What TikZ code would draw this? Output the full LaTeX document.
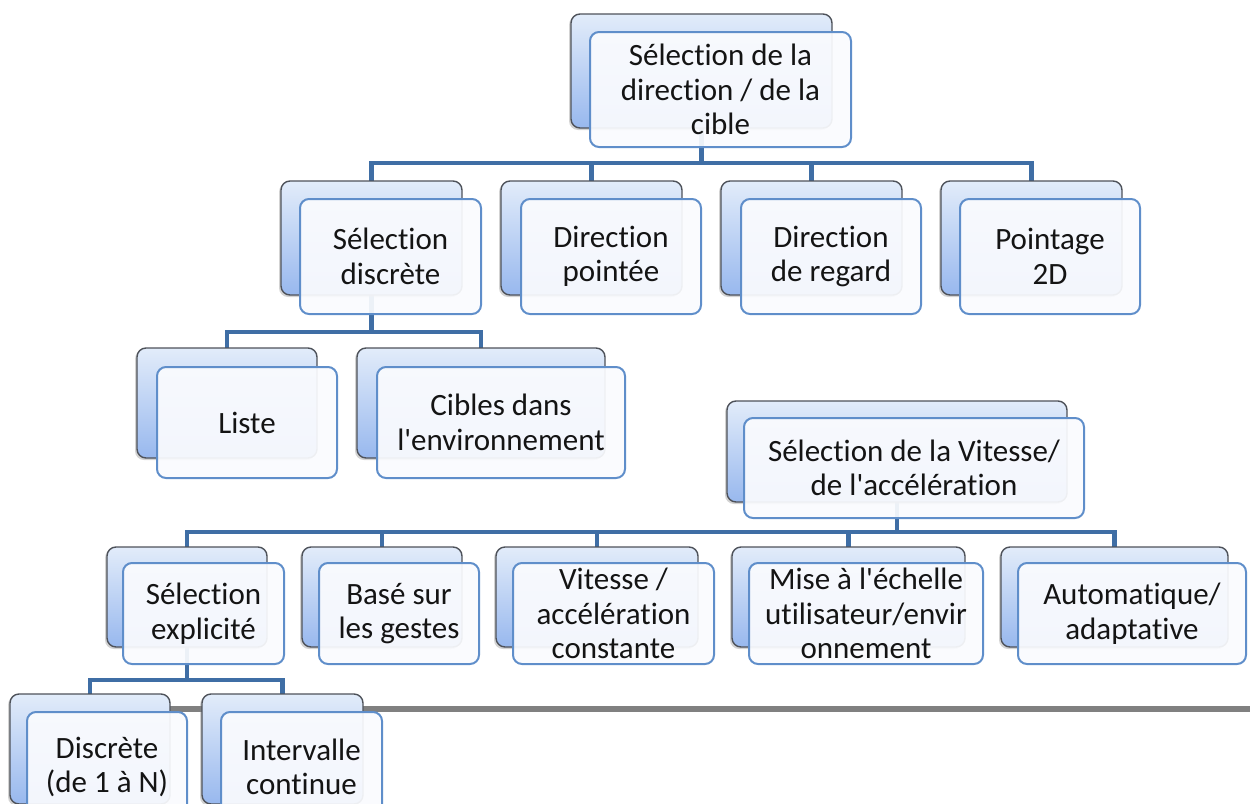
\documentclass[tikz,border=0pt]{standalone}
\usepackage{fontspec}
\setmainfont{Carlito}[Ligatures={TeXOff,NoCommon}]
\usetikzlibrary{shadows}
\pgfdeclarelayer{bg}
\pgfsetlayers{bg,main}
\definecolor{conncol}{HTML}{3F6EA5}
\definecolor{backline}{HTML}{4E525A}
\definecolor{backtop}{HTML}{E2ECFA}
\definecolor{backbot}{HTML}{98B8EE}
\definecolor{frontline}{HTML}{5F8ECA}
\definecolor{frontfill}{HTML}{FAFBFE}
\definecolor{textcol}{HTML}{141414}
\definecolor{rulecol}{HTML}{808080}
\begin{document}
\begin{tikzpicture}[x=1pt,y=-1pt,
  backbox/.style={draw=backline, line width=1.4, rounded corners=9,
    top color=backtop, bottom color=backbot, inner sep=0, outer sep=0,
    drop shadow={shadow xshift=-2pt, shadow yshift=-2pt, opacity=0.35}},
  frontbox/.style={draw=frontline, line width=2, rounded corners=9,
    fill=frontfill, fill opacity=0.93, text opacity=1, text=textcol,
    align=center, inner sep=0, outer sep=0,
    font=\fontsize{31}{34.5}\selectfont},
  conn/.style={draw=conncol, line width=4.5},
  rule/.style={draw=rulecol, line width=5.5}]
\useasboundingbox (0,0) rectangle (1250,803);
\clip (0,0) rectangle (1250,803);

% bus levels of the two trees
\coordinate (bus1) at (0,163);
\coordinate (bus2) at (0,332);
\coordinate (bus3) at (0,532);
\coordinate (bus4) at (0,680);
\coordinate (ruleA) at (170,709);
\coordinate (ruleB) at (1250,709);

% ---- direction / target tree ----
\node[backbox, minimum width=261, minimum height=114] (rootb) at (701.5,71) {};
\node[frontbox, minimum width=261, minimum height=115] (root) at (720.5,89.5)
  {Sélection de la\\direction / de la\\cible};

\node[backbox, minimum width=181, minimum height=114] (discrb) at (371.5,238) {};
\node[frontbox, minimum width=181, minimum height=115] (discr) at (390.5,256.5)
  {Sélection\\discrète};
\node[backbox, minimum width=181, minimum height=114] (pointeeb) at (591.5,238) {};
\node[frontbox, minimum width=180, minimum height=115] (pointee) at (611,256.5)
  {Direction\\pointée};
\node[backbox, minimum width=181, minimum height=114] (regardb) at (811.5,238) {};
\node[frontbox, minimum width=180, minimum height=115] (regard) at (831,256.5)
  {Direction\\de regard};
\node[backbox, minimum width=181, minimum height=114] (pointageb) at (1031.5,238) {};
\node[frontbox, minimum width=180, minimum height=115] (pointage) at (1050,256.5)
  {Pointage\\2D};

\node[backbox, minimum width=180, minimum height=110] (listeb) at (227,403) {};
\node[frontbox, minimum width=180, minimum height=111] (liste) at (247,422.5)
  {Liste};
\node[backbox, minimum width=248, minimum height=110] (ciblesb) at (481,403) {};
\node[frontbox, minimum width=248, minimum height=111] (cibles) at (501,422.5)
  {Cibles dans\\l'environnement};

% ---- speed / acceleration tree ----
\node[backbox, minimum width=340, minimum height=101] (speedb) at (897,451.5) {};
\node[frontbox, minimum width=340, minimum height=100] (speed) at (914,468)
  {Sélection de la Vitesse/\\de l'accélération};

\node[backbox, minimum width=160, minimum height=100] (explb) at (187,597) {};
\node[frontbox, minimum width=161, minimum height=101] (expl) at (203.5,613.5)
  {Sélection\\explicité};
\node[backbox, minimum width=160, minimum height=100] (gestb) at (382,597) {};
\node[frontbox, minimum width=160, minimum height=101] (gest) at (399,613.5)
  {Basé sur\\les gestes};
\node[backbox, minimum width=202, minimum height=100] (constb) at (597,597) {};
\node[frontbox, minimum width=201, minimum height=101] (const) at (613.5,613.5)
  {Vitesse /\\accélération\\constante};
\node[backbox, minimum width=233, minimum height=100] (scaleb) at (848.5,597) {};
\node[frontbox, minimum width=234, minimum height=101] (scale) at (866,613.5)
  {Mise à l'échelle\\utilisateur/envir\\onnement};
\node[backbox, minimum width=227, minimum height=100] (autob) at (1114.5,597) {};
\node[frontbox, minimum width=228, minimum height=101] (auto) at (1132,613.5)
  {Automatique/\\adaptative};

\node[backbox, minimum width=160, minimum height=110] (discb) at (90,749) {};
\node[frontbox, minimum width=160, minimum height=110] (disc) at (107,767)
  {Discrète\\(de 1 à N)};
\node[backbox, minimum width=161, minimum height=110] (contb) at (282.5,749) {};
\node[frontbox, minimum width=161, minimum height=110] (cont) at (301.5,767)
  {Intervalle\\continue};

% ---- connectors and rule, behind the boxes ----
\begin{pgfonlayer}{bg}
  \draw[rule] (ruleA) -- (ruleB);
  \foreach \c in {discrb,pointeeb,regardb,pointageb}
    \draw[conn] (rootb.south) -- (rootb.south |- bus1) -| (\c.north);
  \foreach \c in {listeb,ciblesb}
    \draw[conn] (discrb.south) -- (discrb.south |- bus2) -| (\c.north);
  \foreach \c in {explb,gestb,constb,scaleb,autob}
    \draw[conn] (speedb.south) -- (speedb.south |- bus3) -| (\c.north);
  \foreach \c in {discb,contb}
    \draw[conn] (explb.south) -- (explb.south |- bus4) -| (\c.north);
\end{pgfonlayer}
\end{tikzpicture}
\end{document}
